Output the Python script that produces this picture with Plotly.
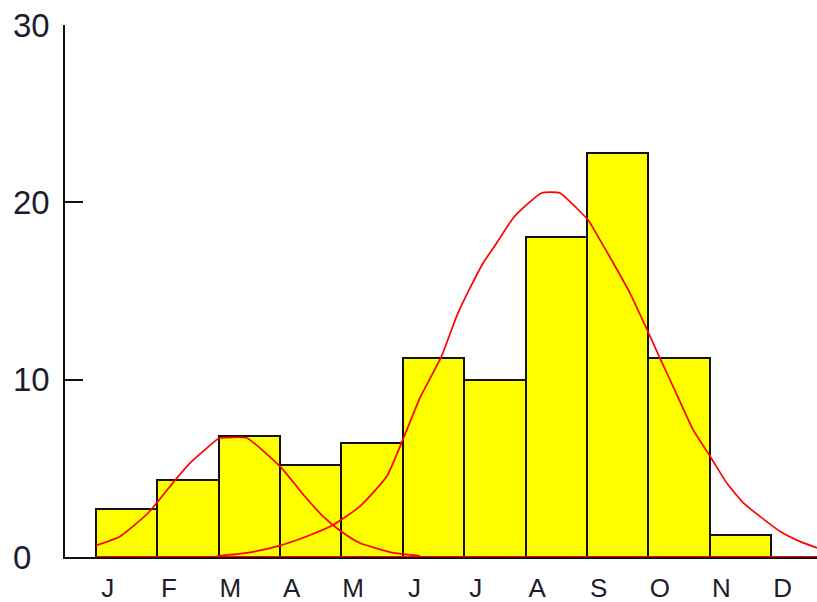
import plotly.graph_objects as go

# Monthly share (%) of occurrences, January..December
months = ["J", "F", "M", "A", "M", "J", "J", "A", "S", "O", "N", "D"]
values = [2.72, 4.36, 6.84, 5.17, 6.43, 11.22, 10.0, 18.03, 22.79, 11.22, 1.22, 0.0]

# Fitted component curves (x in months from start of January)
spring_x = [0.0, 0.39, 0.85, 1.32, 1.56, 1.97, 2.02, 2.23, 2.46, 3.0, 3.38, 3.70, 3.98, 4.30, 4.85, 5.28]
spring_y = [0.65, 1.16, 2.48, 4.46, 5.39, 6.62, 6.71, 6.75, 6.71, 5.11, 3.51, 2.29, 1.48, 0.79, 0.23, 0.07]

autumn_x = [1.97, 2.46, 2.95, 3.43, 3.87, 4.30, 4.74, 5.01, 5.28, 5.63, 5.88, 6.10, 6.31, 6.53,
            6.80, 7.02, 7.26, 7.56, 7.83, 8.02, 8.21, 8.43, 8.70, 8.97, 9.19, 9.46, 9.73, 10.01,
            10.28, 10.55, 10.82, 11.15, 11.47, 11.75]
autumn_y = [0.05, 0.23, 0.60, 1.16, 1.82, 2.85, 4.55, 6.70, 8.97, 11.31, 13.60, 15.20, 16.58, 17.71,
            19.12, 19.87, 20.53, 20.53, 19.68, 19.00, 17.90, 16.58, 14.90, 12.90, 11.22, 9.20, 7.18, 5.67,
            4.17, 3.05, 2.29, 1.44, 0.88, 0.51]

y_ticks = [0, 10, 20, 30]

x_lo, x_hi = -0.505, 11.75
bar_x = [i + 0.5 for i in range(len(months))]
label_x = [i + 0.19 for i in range(len(months))]

fig = go.Figure()
fig.add_trace(go.Bar(
    x=bar_x, y=values, width=1.0,
    marker=dict(color="#ffff00", line=dict(color="#111111", width=2)),
    showlegend=False, hoverinfo="skip",
))
# baseline of the fitted curves
fig.add_trace(go.Scatter(
    x=[0, x_hi], y=[0, 0], mode="lines",
    line=dict(color="#ff0000", width=2.2), cliponaxis=False,
    showlegend=False, hoverinfo="skip",
))
for xs, ys in ((spring_x, spring_y), (autumn_x, autumn_y)):
    fig.add_trace(go.Scatter(
        x=xs, y=ys, mode="lines",
        line=dict(color="#ff0000", width=1.7, shape="spline", smoothing=0.5),
        cliponaxis=False, showlegend=False, hoverinfo="skip",
    ))

# y tick labels, left-aligned in the margin
for v in y_ticks:
    fig.add_annotation(
        x=-0.071, xref="paper", y=v, yref="y",
        text=str(v), showarrow=False, xanchor="left", yanchor="middle",
        font=dict(size=33, color="#1c1c2c"), borderpad=0,
    )

fig.update_layout(
    width=817, height=602,
    margin=dict(l=65, r=0, t=25, b=45),
    paper_bgcolor="white", plot_bgcolor="white",
    bargap=0,
    font=dict(family="Liberation Sans, Arial, sans-serif", color="#1c1c2c"),
)
fig.update_xaxes(
    range=[x_lo, x_hi], showgrid=False, zeroline=False,
    showline=True, linecolor="#111111", linewidth=2, layer="below traces",
    tickmode="array", tickvals=label_x, ticktext=months,
    ticks="", tickfont=dict(size=26), ticklabelstandoff=7,
)
fig.update_yaxes(
    range=[0, 30], showgrid=False, zeroline=False,
    showline=True, linecolor="#111111", linewidth=2,
    tickmode="array", tickvals=y_ticks, showticklabels=False,
    ticks="inside", ticklen=18, tickwidth=2, tickcolor="#111111",
)

fig.write_html("out.html")
